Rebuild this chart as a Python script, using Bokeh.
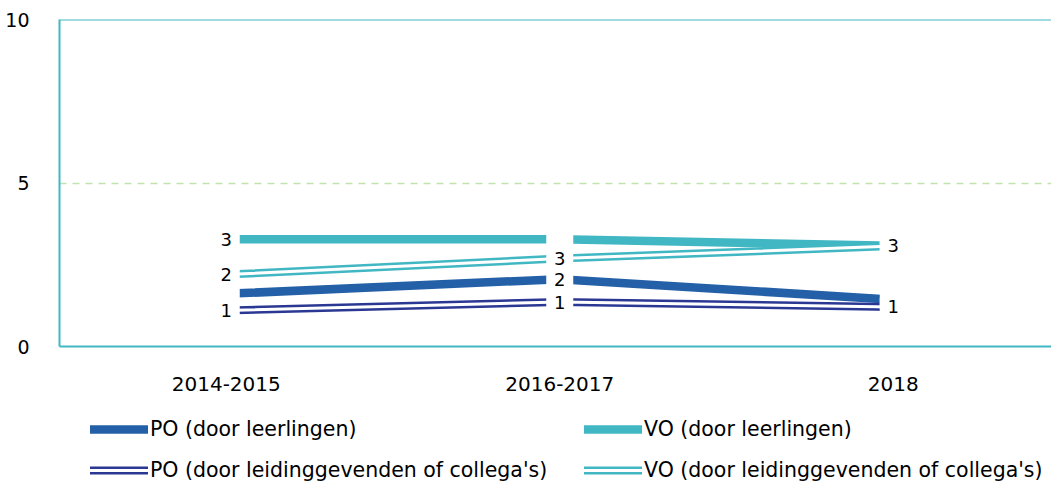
from bokeh.plotting import figure
from bokeh.layouts import column
from bokeh.models import ColumnDataSource, FixedTicker, Span, Legend, LegendItem, Range1d
from bokeh.core.properties import value
from bokeh.embed import file_html
from bokeh.resources import INLINE

years = ["2014-2015", "2016-2017", "2018"]
po_leerlingen = [1.61, 2.06, 1.43]
vo_leerlingen = [3.28, 3.28, 3.08]
po_leiding = [1.10, 1.36, 1.21]
vo_leiding = [2.20, 2.69, 3.07]

# visible data labels (others are hidden behind overlapping labels)
po_leerlingen_lbl = ["", "2", ""]
vo_leerlingen_lbl = ["3", "", "3"]
po_leiding_lbl = ["1", "1", "1"]
vo_leiding_lbl = ["2", "3", ""]

y_ticks = [0, 5, 10]

TEAL = "#42B7C4"
BLUE = "#2460A7"
NAVY = "#2B3893"
FONT = "DejaVu Sans"

xs = [i + 0.5 for i in range(len(years))]

p = figure(width=1051, height=400, output_backend="svg", toolbar_location=None,
           x_range=Range1d(0, 992 / 333.5), y_range=Range1d(0, 10),
           min_border_left=59, min_border_right=0, min_border_top=19, min_border_bottom=54)
p.outline_line_color = None
p.xgrid.visible = False
p.ygrid.ticker = FixedTicker(ticks=[5])
p.ygrid.grid_line_color = "#BFE4AE"
p.ygrid.grid_line_dash = "7 6"
p.ygrid.grid_line_width = 1.5

p.add_layout(Span(location=10, dimension="width", line_color=TEAL, line_width=2))

p.yaxis.ticker = FixedTicker(ticks=y_ticks)
p.xaxis.ticker = FixedTicker(ticks=xs)
p.xaxis.major_label_overrides = {x: y for x, y in zip(xs, years)}
for ax in (p.xaxis, p.yaxis):
    ax.axis_line_color = TEAL
    ax.axis_line_width = 2
    ax.major_tick_line_color = None
    ax.minor_tick_line_color = None
    ax.major_label_text_font = FONT
    ax.major_label_text_color = "black"
p.yaxis.major_label_text_font_size = "19px"
p.xaxis.major_label_text_font_size = "20px"
p.yaxis.major_label_standoff = 24
p.xaxis.major_label_standoff = 24

series = [
    ("PO (door leerlingen)", po_leerlingen, po_leerlingen_lbl, BLUE, False),
    ("VO (door leerlingen)", vo_leerlingen, vo_leerlingen_lbl, TEAL, False),
    ("PO (door leidinggevenden of collega's)", po_leiding, po_leiding_lbl, NAVY, True),
    ("VO (door leidinggevenden of collega's)", vo_leiding, vo_leiding_lbl, TEAL, True),
]

# legend figure with matching sample glyphs (drawn outside its visible range)
lf = figure(width=1051, height=87, output_backend="svg", toolbar_location=None,
            x_range=Range1d(0, 1), y_range=Range1d(0, 1),
            x_axis_location=None, y_axis_location=None,
            min_border_left=59, min_border_right=0, min_border_top=0, min_border_bottom=0)
lf.grid.visible = False
lf.outline_line_color = None

items = []
sources = []
for name, vals, lbl, col, double in series:
    src = ColumnDataSource(dict(x=xs, y=vals, lbl=lbl))
    sources.append(src)
    hidden = ColumnDataSource(dict(x=[-10, -9], y=[-10, -10]))
    if double:
        p.line("x", "y", source=src, line_color=col, line_width=8, line_cap="round")
        p.line("x", "y", source=src, line_color="white", line_width=3, line_cap="round")
        r1 = lf.line("x", "y", source=hidden, line_color=col, line_width=8, line_cap="round")
        r2 = lf.line("x", "y", source=hidden, line_color="white", line_width=3, line_cap="round")
        items.append(LegendItem(label=name, renderers=[r1, r2]))
    else:
        p.line("x", "y", source=src, line_color=col, line_width=8.5, line_cap="round")
        r1 = lf.line("x", "y", source=hidden, line_color=col, line_width=8.5, line_cap="round")
        items.append(LegendItem(label=name, renderers=[r1]))

# label boxes
for src in sources:
    p.rect("x", "y", source=src, width=27, height=18, width_units="screen",
           height_units="screen", fill_color="white", line_color=None)
for src in sources:
    p.text("x", "y", text="lbl", source=src, text_align="center", text_baseline="middle",
           text_font=value(FONT), text_font_size="18px", text_color="black")

for row, loc in (([items[0], items[1]], (31, 46)), ([items[2], items[3]], (31, 5))):
    lg = Legend(items=row, orientation="horizontal")
    lg.glyph_width = 58
    lg.glyph_height = 20
    lg.label_height = 20
    lg.label_standoff = 2
    lg.label_width = 402
    lg.spacing = 32
    lg.label_text_font = FONT
    lg.label_text_font_size = "20.5px"
    lg.label_text_color = "black"
    lg.border_line_color = None
    lg.background_fill_alpha = 0
    lg.padding = 0
    lg.margin = 0
    lg.location = loc
    lf.add_layout(lg, "center")

open("out.html", "w").write(file_html(column(p, lf, spacing=0), INLINE))
